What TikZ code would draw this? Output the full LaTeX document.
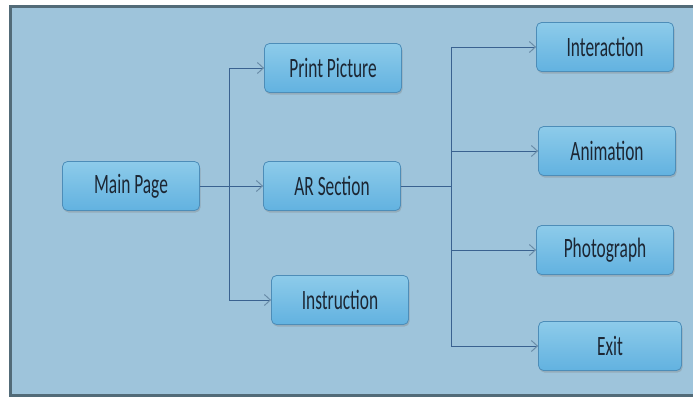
\documentclass[tikz,border=0pt]{standalone}
\usepackage{fontspec}
\setmainfont{Carlito}[FakeStretch=0.62]
\usetikzlibrary{arrows.meta,calc,shadows}

\definecolor{frameback}{HTML}{9EC4DB}
\definecolor{frameline}{HTML}{526B78}
\definecolor{pagetop}{HTML}{8DCBEA}
\definecolor{pagebottom}{HTML}{62B2E0}
\definecolor{pageline}{HTML}{4D8DB8}
\definecolor{linkblue}{HTML}{3A6290}
\definecolor{tipblue}{HTML}{6A8CA8}
\definecolor{pagetext}{HTML}{1C2633}

\begin{document}
\begin{tikzpicture}
    [x=1pt, y=-1pt,
    every node/.style={font=\fontsize{28}{30}\selectfont, text=pagetext},
    page/.style={
        rounded corners=5pt, draw=pageline, line width=0.8pt,
        top color=pagetop, bottom color=pagebottom,
        minimum width=137pt, minimum height=49pt,
        drop shadow={shadow xshift=1pt, shadow yshift=-2pt, opacity=0.35}},
    wire/.style={draw=linkblue, line width=1pt},
    link/.style={wire, -{Straight Barb[length=6pt, width=11pt, color=tipblue]}}
    ]
    \useasboundingbox (0,0) rectangle (693,397);
    \fill[frameback] (10,6) rectangle (693,396);
    \draw[frameline, line width=3pt] (693,6) -- (10,6) -- (10,395.5) -- (693,395.5);

    % left column
    \node[page] (main) at (131,186) {Main Page};
    % middle column
    \node[page] (print) at (333,68) {Print Picture};
    \node[page] (ar) at (332,186) {AR Section};
    \node[page] (instr) at (340,300) {Instruction};
    % right column
    \node[page] (inter) at (605,47) {Interaction};
    \node[page] (anim) at (607,151) {Animation};
    \node[page] (photo) at (605,250) {Photograph};
    \node[page, minimum width=143pt] (exit) at (610,346) {Exit};

    \coordinate (fork1) at ($(main.east)!0.47!(ar.west)$);
    \coordinate (fork2) at ($(ar.east)+(51,0)$);

    \draw[link] (main) -- (ar);
    \draw[link] (fork1) |- (print);
    \draw[link] (fork1) |- (instr);

    \draw[wire] (ar) -- (fork2);
    \draw[link] (fork2) |- (inter);
    \draw[link] (fork2) |- (anim);
    \draw[link] (fork2) |- (photo);
    \draw[link] (fork2) |- (exit);
\end{tikzpicture}
\end{document}
